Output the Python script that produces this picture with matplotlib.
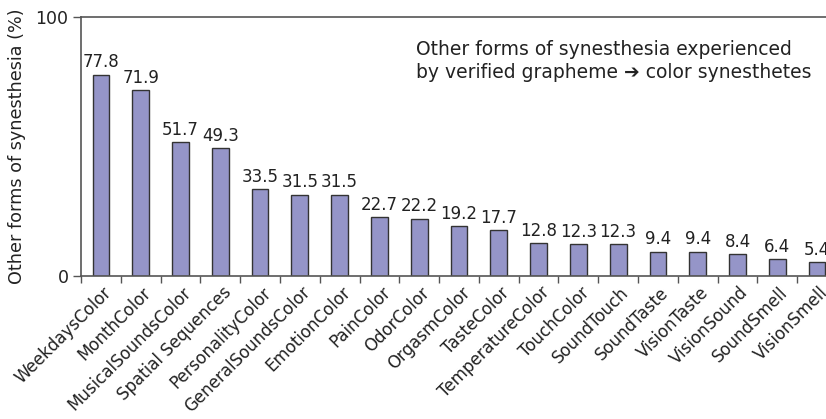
import matplotlib
matplotlib.use('Agg')
import matplotlib.pyplot as plt
import matplotlib.transforms as mtransforms
import numpy as np

categories = ['WeekdaysColor', 'MonthColor', 'MusicalSoundsColor', 'Spatial Sequences',
              'PersonalityColor', 'GeneralSoundsColor', 'EmotionColor', 'PainColor',
              'OdorColor', 'OrgasmColor', 'TasteColor', 'TemperatureColor', 'TouchColor',
              'SoundTouch', 'SoundTaste', 'VisionTaste', 'VisionSound', 'SoundSmell', 'VisionSmell']
values = [77.8, 71.9, 51.7, 49.3, 33.5, 31.5, 31.5, 22.7, 22.2, 19.2, 17.7,
          12.8, 12.3, 12.3, 9.4, 9.4, 8.4, 6.4, 5.4]
y_ticks = [0, 100]

plt.rcParams['font.family'] = ['DejaVu Sans']
txt_color = '#222222'

fig = plt.figure(figsize=(8.26, 4.19), dpi=100)
# axes deliberately runs past the right edge, like the clipped original
ax = fig.add_axes([81 / 826, (419 - 276) / 419, 756 / 826, (276 - 17.3) / 419])

x = np.arange(len(categories))
ax.bar(x, values, width=0.42, color='#9595c8', edgecolor='#333333', linewidth=1.0)

for xi, v in zip(x, values):
    ax.text(xi, v + 1.3, f'{v:.1f}', ha='center', va='bottom', fontsize=12, color=txt_color)

ax.set_xlim(-0.5, len(categories) - 0.5)
ax.set_ylim(0, 100)
ax.set_yticks(y_ticks)
ax.set_yticklabels([str(t) for t in y_ticks], fontsize=12.5, color=txt_color)

# labels at bar centres, tick marks at the category boundaries
ax.set_xticks(x)
ax.set_xticklabels(categories, rotation=45, ha='right', va='center', rotation_mode='anchor',
                   fontsize=12, color=txt_color)
ax.tick_params(axis='x', which='major', length=0, pad=10)
shift = mtransforms.ScaledTranslation(8 / 100, 0, fig.dpi_scale_trans)
for lab in ax.get_xticklabels():
    lab.set_transform(lab.get_transform() + shift)
ax.set_xticks(np.arange(len(categories) + 1) - 0.5, minor=True)
ax.tick_params(axis='x', which='minor', length=5, width=1.0, color='#555555', direction='out')
ax.tick_params(axis='y', length=6, width=1.0, color='#555555', direction='out', pad=3)

ax.set_ylabel('Other forms of synesthesia (%)', fontsize=12.7, color=txt_color)
ax.yaxis.set_label_coords((26 - 81) / 756, 0.5)

for side in ['left', 'bottom', 'top']:
    ax.spines[side].set_color('#555555')
    ax.spines[side].set_linewidth(1.2)
ax.spines['right'].set_visible(False)

fig.text(416 / 826, 1 - 40 / 419,
         'Other forms of synesthesia experienced\nby verified grapheme \u2794 color synesthetes',
         ha='left', va='top', fontsize=13.5, color=txt_color, linespacing=1.25)

fig.savefig('out.png', dpi=100)
